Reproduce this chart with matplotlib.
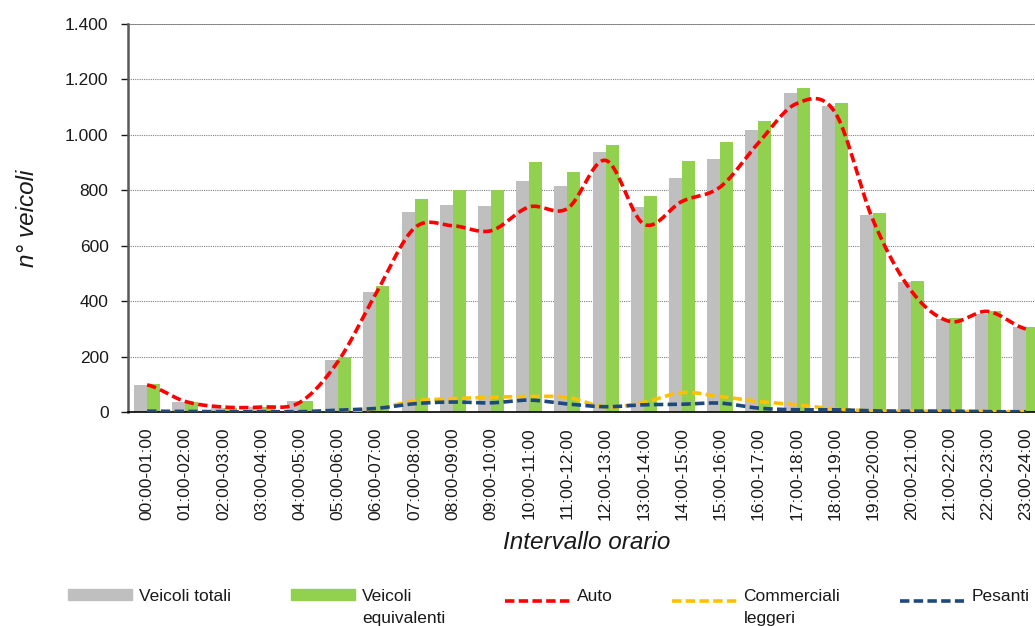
import matplotlib
matplotlib.use("Agg")
import matplotlib.pyplot as plt
import numpy as np
from matplotlib.legend_handler import HandlerLine2D, HandlerPatch
from matplotlib.lines import Line2D
from matplotlib.patches import Patch

plt.rcParams["font.family"] = ["Liberation Sans", "DejaVu Sans"]

intervalli = [
    "00:00-01:00", "01:00-02:00", "02:00-03:00", "03:00-04:00", "04:00-05:00",
    "05:00-06:00", "06:00-07:00", "07:00-08:00", "08:00-09:00", "09:00-10:00",
    "10:00-11:00", "11:00-12:00", "12:00-13:00", "13:00-14:00", "14:00-15:00",
    "15:00-16:00", "16:00-17:00", "17:00-18:00", "18:00-19:00", "19:00-20:00",
    "20:00-21:00", "21:00-22:00", "22:00-23:00", "23:00-24:00",
]
veicoli_totali = [97, 36, 15, 17, 38, 186, 433, 720, 746, 743, 834, 817,
                  939, 738, 846, 914, 1016, 1151, 1103, 712, 468, 336, 354, 305]
veicoli_equivalenti = [100, 35, 14, 17, 40, 198, 453, 769, 802, 802, 901, 866,
                       964, 780, 907, 973, 1049, 1170, 1115, 718, 471, 339, 366, 305]
auto = [98, 38, 18, 18, 35, 183, 430, 664, 672, 654, 740, 734,
        908, 678, 760, 812, 971, 1113, 1082, 692, 437, 327, 363, 300]
commerciali = [1, 1, 0, 0, 1, 3, 12, 40, 48, 53, 56, 53,
               18, 35, 70, 56, 38, 26, 11, 4, 3, 2, 2, 1]
pesanti = [3, 2, 1, 1, 1, 7, 13, 30, 36, 33, 43, 29,
           19, 26, 28, 32, 14, 8, 8, 4, 3, 3, 1, 1]


def smooth(y, n=20):
    # catmull-rom through the points, like the excel "smoothed line"
    y = np.asarray(y, dtype=float)
    p = np.concatenate([[y[0]], y, [y[-1]]])
    xs, ys = [], []
    t = np.linspace(0, 1, n, endpoint=False)
    for i in range(len(y) - 1):
        p0, p1, p2, p3 = p[i], p[i + 1], p[i + 2], p[i + 3]
        ys.append(0.5 * (2 * p1 + (-p0 + p2) * t
                         + (2 * p0 - 5 * p1 + 4 * p2 - p3) * t ** 2
                         + (-p0 + 3 * p1 - 3 * p2 + p3) * t ** 3))
        xs.append(i + t)
    xs.append([len(y) - 1])
    ys.append([y[-1]])
    return np.concatenate(xs), np.concatenate(ys)


UP = 0.75


class UpLine(HandlerLine2D):
    def create_artists(self, legend, orig, xd, yd, w, h, fs, trans):
        return super().create_artists(legend, orig, xd, yd - UP * fs, w, h, fs, trans)


class UpPatch(HandlerPatch):
    def create_artists(self, legend, orig, xd, yd, w, h, fs, trans):
        return super().create_artists(legend, orig, xd, yd - UP * fs, w, h, fs, trans)


fig = plt.figure(figsize=(10.35, 6.26), dpi=100)
ax = fig.add_axes([128 / 1035, 214 / 626, 917 / 1035, 388 / 626])

x = np.arange(len(intervalli))
w = 0.34
ax.bar(x - w / 2, veicoli_totali, w, color="#bfbfbf", zorder=2)
ax.bar(x + w / 2, veicoli_equivalenti, w, color="#92d050", zorder=2)

dash = (2.6, 1.2)
red = "#ff0000"
yellow = "#ffc000"
blue = "#1f497d"
for serie, col in [(commerciali, yellow), (pesanti, blue), (auto, red)]:
    sx, sy = smooth(serie)
    ax.plot(sx, sy, color=col, lw=2.6, dashes=dash, zorder=3)

ax.set_xlim(-0.5, len(intervalli) - 0.5)
ax.set_ylim(0, 1400)
ax.set_yticks(np.arange(0, 1401, 200))
ax.set_yticklabels([f"{v:,}".replace(",", ".") for v in range(0, 1401, 200)])
ax.set_xticks(x)
ax.set_xticklabels(intervalli, rotation=90)
ax.tick_params(axis="x", length=0, pad=11, labelsize=12.5, colors="#1a1a1a")
ax.tick_params(axis="y", length=5, width=1, pad=9, labelsize=12.5,
               colors="#1a1a1a")
ax.yaxis.grid(True, color="#808080", lw=0.8, ls=(0, (1, 1)), zorder=0)
ax.set_axisbelow(True)
for s in ["top", "right"]:
    ax.spines[s].set_visible(False)
ax.spines["left"].set_color("#595959")
ax.spines["left"].set_linewidth(1.8)
ax.spines["bottom"].set_color("#000000")
ax.spines["bottom"].set_linewidth(1.2)
ax.axhline(1400, color="#808080", lw=1.2, zorder=1)

ax.set_ylabel("n° veicoli", fontsize=17.5, style="italic", labelpad=19,
              color="#1a1a1a")
ax.set_xlabel("Intervallo orario", fontsize=17.5, style="italic", labelpad=8,
              color="#1a1a1a")

handles = [
    Patch(color="#bfbfbf"),
    Patch(color="#92d050"),
    Line2D([], [], color=red, lw=2.6, dashes=dash),
    Line2D([], [], color=yellow, lw=2.6, dashes=dash),
    Line2D([], [], color=blue, lw=2.6, dashes=dash),
]
labels = ["Veicoli totali\n", "Veicoli\nequivalenti", "Auto\n",
          "Commerciali\nleggeri", "Pesanti\n"]
leg = fig.legend(handles, labels, loc="upper left",
                 bbox_to_anchor=(68 / 1035, 1 - 589 / 626),
                 ncol=5, frameon=False, fontsize=12.5, handlelength=3.7,
                 handleheight=0.6, handletextpad=0.4, columnspacing=3.45,
                 borderpad=0, borderaxespad=0, labelcolor="#1a1a1a",
                 handler_map={Patch: UpPatch(), Line2D: UpLine()})
for t in leg.get_texts():
    t.set_linespacing(1.55)

fig.savefig("out.png", dpi=100)
